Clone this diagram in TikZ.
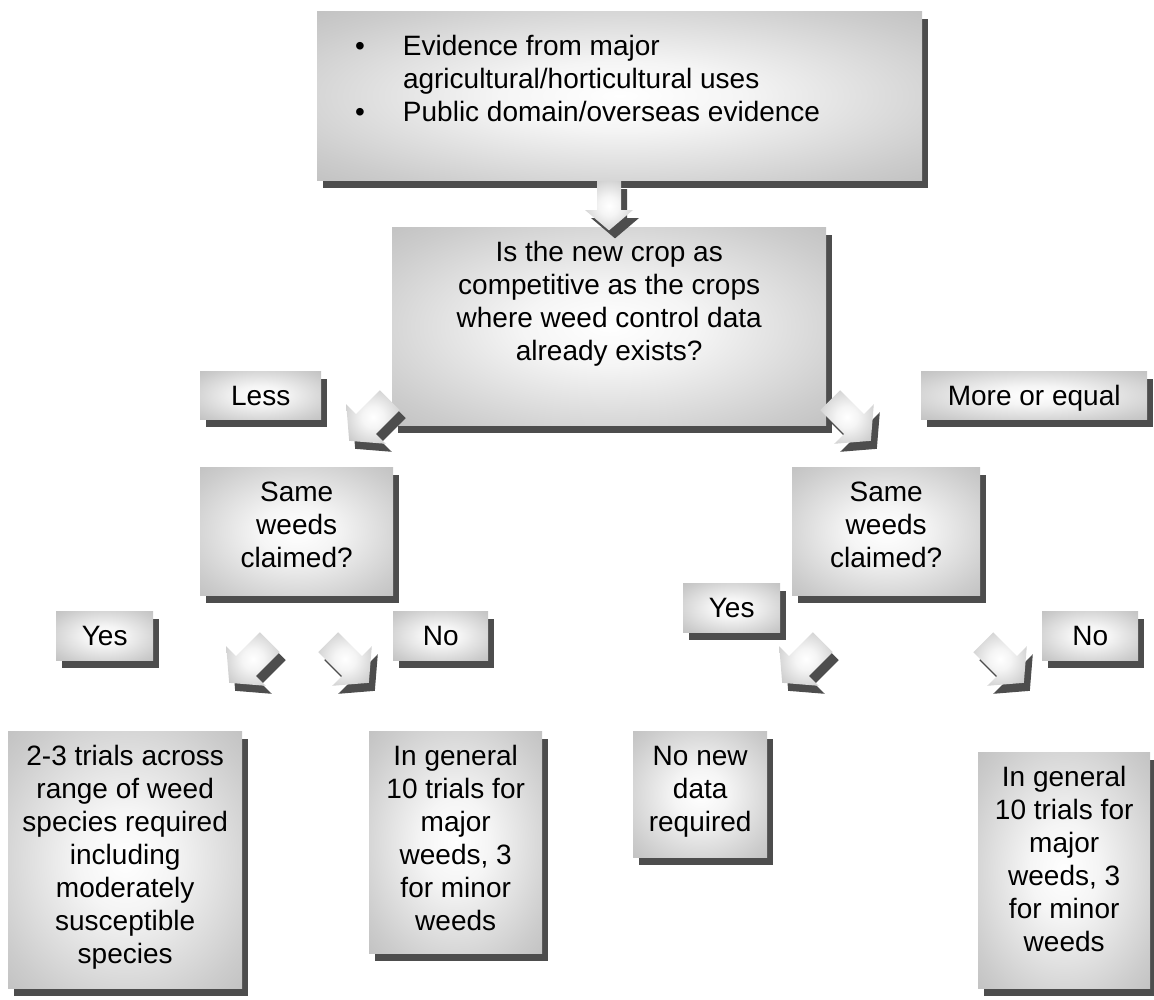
\documentclass[tikz,border=0pt]{standalone}
\usepackage{fontspec}
\setmainfont{Liberation Sans}
\usetikzlibrary{shadows, calc}
\definecolor{cardgray}{RGB}{170,170,170}
\definecolor{shadowgray}{RGB}{77,77,77}
\pgfdeclareradialshading{cardshade}{\pgfpoint{0bp}{0bp}}{color(0bp)=(white); color(10bp)=(cardgray!12!white); color(30bp)=(cardgray!60!white); color(50bp)=(cardgray); color(100bp)=(cardgray)}
\newcommand{\cardtext}[3]{\parbox[c][#2][t]{#1}{\centering\vspace*{11pt}\strut#3}}
\newcommand{\arrowoutline}{(-0.5,1.2) -- (0.5,1.2) -- (0.5,0) -- (1,0) -- (0,-0.85) -- (-1,0) -- (-0.5,0) -- cycle}
\newcommand{\flowarrow}[3]{%
  \fill[shadowgray, shift={($(#1)+(6,-8)$)}, rotate=#2, scale=#3] \arrowoutline;
  \shade[shading=cardshade, shift={(#1)}, rotate=#2, scale=#3] \arrowoutline;}

\begin{document}
\begin{tikzpicture}[
        x=1pt, y=1pt,
        card/.style={rectangle, anchor=north west, inner sep=0pt, shade, shading=cardshade, drop shadow={shadow xshift=6pt, shadow yshift=-8pt, fill=shadowgray, opacity=1}, font=\fontsize{28pt}{33pt}\selectfont}
    ]
        \useasboundingbox (0,0) rectangle (1154,-999);

        \node[card] (evidence) at (317,-11) {\parbox[c][169pt][t]{605pt}{\vspace*{21pt}\hspace*{38pt}\begin{tabular}[t]{@{}l@{\hspace{38pt}}l@{}}
            \textbullet & Evidence from major\\
                        & agricultural/horticultural uses\\
            \textbullet & Public domain/overseas evidence
        \end{tabular}}};
        \node[card] (ask) at (392,-227) {\cardtext{434pt}{198pt}{Is the new crop as\\competitive as the crops\\where weed control data\\already exists?}};
        \node[card] (less) at (200,-371) {\cardtext{121pt}{48pt}{Less}};
        \node[card] (moreeq) at (921,-371) {\cardtext{226pt}{48pt}{More or equal}};

        \node[card] (sameL) at (200,-467) {\cardtext{193pt}{128pt}{Same\\weeds\\claimed?}};
        \node[card] (sameR) at (792,-467) {\cardtext{188pt}{128pt}{Same\\weeds\\claimed?}};

        \node[card] (yesL) at (56,-611) {\cardtext{97pt}{49pt}{Yes}};
        \node[card] (noL) at (393,-611) {\cardtext{95pt}{49pt}{No}};
        \node[card] (yesR) at (683,-583) {\cardtext{97pt}{49pt}{Yes}};
        \node[card] (noR) at (1042,-611) {\cardtext{96pt}{49pt}{No}};

        \node[card] (trialsL) at (8,-731) {\cardtext{234pt}{257pt}{2-3 trials across\\range of weed\\species required\\including\\moderately\\susceptible\\species}};
        \node[card] (generalL) at (369,-731) {\cardtext{173pt}{222pt}{In general\\10 trials for\\major\\weeds, 3\\for minor\\weeds}};
        \node[card] (nodata) at (633,-731) {\cardtext{134pt}{126pt}{No new\\data\\required}};
        \node[card] (generalR) at (978,-752) {\cardtext{172pt}{236pt}{In general\\10 trials for\\major\\weeds, 3\\for minor\\weeds}};

        \coordinate (toask) at (609,-210);
        \coordinate (toless) at (366,-424);
        \coordinate (tomore) at (854,-424);
        \coordinate (toyesL) at (246,-666);
        \coordinate (tonoL) at (352,-666);
        \coordinate (toyesR) at (799,-666);
        \coordinate (tonoR) at (1007,-666);

        \flowarrow{toask}{0}{24}
        \flowarrow{toless}{-45}{28}
        \flowarrow{tomore}{45}{28}
        \flowarrow{toyesL}{-45}{28}
        \flowarrow{tonoL}{45}{28}
        \flowarrow{toyesR}{-45}{28}
        \flowarrow{tonoR}{45}{28}
    \end{tikzpicture}
\end{document}
